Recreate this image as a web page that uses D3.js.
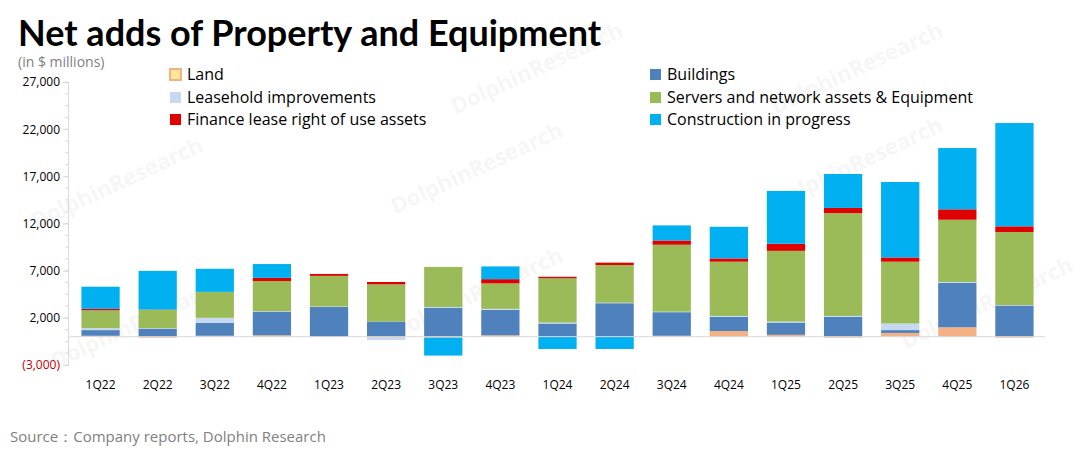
<!DOCTYPE html>
<html><head><meta charset="utf-8">
<script src="https://cdn.jsdelivr.net/npm/d3@7/dist/d3.min.js"></script>
<style>body{margin:0;background:#fff;font-family:"Open Sans","Noto Sans",sans-serif;}</style>
</head><body><svg id="c" width="1080" height="455"></svg>
<script>
// quarters and series values ($ millions)
var quarters = ["1Q22","2Q22","3Q22","4Q22","1Q23","2Q23","3Q23","4Q23","1Q24","2Q24","3Q24","4Q24","1Q25","2Q25","3Q25","4Q25","1Q26"];
var land      = [100,-100,100,150,0,-100,-100,150,0,0,100,600,200,-100,400,1000,-100];
var buildings = [600,850,1380,2500,3150,1600,3050,2700,1400,3550,2500,1500,1300,2100,300,4700,3300];
var leasehold = [200,50,520,50,50,-250,100,100,100,50,50,100,100,100,700,100,50];
var servers   = [1900,1950,2750,3200,3250,3950,4250,2700,4700,4000,7100,5750,7500,10900,6550,6600,7750];
var finance   = [150,30,0,340,200,250,0,450,150,250,450,350,750,550,450,1100,600];
var construction = [2350,4100,2450,1460,0,0,-1900,1350,-1300,-1300,1600,3350,5600,3600,8000,6500,10950];
var yTicks = [-3000,2000,7000,12000,17000,22000,27000];

var seriesNames = ["Land","Buildings","Leasehold improvements","Servers and network assets & Equipment","Finance lease right of use assets","Construction in progress"];
var seriesKeys = ["land","buildings","leasehold","servers","finance","construction"];
var colors = {land:"#F4B183",buildings:"#4F81BD",leasehold:"#C6D9F1",servers:"#9BBB59",finance:"#E00000",construction:"#00B0F0"};
var src = {land:land,buildings:buildings,leasehold:leasehold,servers:servers,finance:finance,construction:construction};

var rows = quarters.map(function(q, i) {
  var r = {q: q};
  seriesKeys.forEach(function(k) { r[k] = src[k][i]; });
  return r;
});

var svg = d3.select("#c");
var x = d3.scaleBand().domain(quarters).range([70, 1045]).paddingInner(0.33).paddingOuter(0.2);
var y = d3.scaleLinear().domain([-3000, 27000]).range([365, 82]);

// watermarks
var wm = [[120,190],[480,175],[860,170],[140,330],[480,300],[990,310],[540,75],[860,75]];
svg.selectAll(".wm").data(wm).enter().append("text")
  .attr("transform", function(d) { return "translate(" + d[0] + "," + d[1] + ") rotate(-25)"; })
  .attr("text-anchor", "middle").attr("font-size", 22).attr("font-weight", "bold")
  .attr("fill", "#000").attr("opacity", 0.03).text("DolphinResearch");

// title
svg.append("text").attr("x", 18).attr("y", 46).attr("font-size", 36).attr("font-weight", "bold")
  .attr("font-family", "Lato, 'Open Sans', sans-serif").attr("fill", "#000").text("Net adds of Property and Equipment");
svg.append("text").attr("x", 18).attr("y", 67).attr("font-size", 14).attr("fill", "#7f7f7f").text("(in $ millions)");

// stacked bars
var stack = d3.stack().keys(seriesKeys).offset(d3.stackOffsetDiverging);
var layers = stack(rows);
svg.append("g").selectAll("g").data(layers).enter().append("g")
  .attr("fill", function(d) { return colors[d.key]; })
  .selectAll("rect").data(function(d) { return d; }).enter().append("rect")
  .attr("x", function(d) { return x(d.data.q); })
  .attr("width", x.bandwidth())
  .attr("y", function(d) { return y(Math.max(d[0], d[1])); })
  .attr("height", function(d) { return Math.abs(y(d[0]) - y(d[1])); });

// zero line
svg.append("line").attr("x1", 68).attr("x2", 1045).attr("y1", y(0)).attr("y2", y(0))
  .attr("stroke", "#d9d9d9").attr("stroke-width", 1);

// y axis
var yAxis = d3.axisLeft(y).tickValues(yTicks).tickSize(5)
  .tickFormat(function(d) { return d < 0 ? "(" + d3.format(",")(-d) + ")" : d3.format(",")(d); });
var ga = svg.append("g").attr("transform", "translate(68,0)").call(yAxis);
ga.select(".domain").attr("stroke", "#d9d9d9");
ga.selectAll(".tick line").attr("stroke", "#d9d9d9");
ga.selectAll("text").attr("font-size", 12).attr("font-family", "'Open Sans', sans-serif")
  .attr("fill", function(d) { return d < 0 ? "#c00000" : "#000"; });
// minor ticks
svg.append("g").selectAll("line").data(d3.range(-3000, 27001, 1250)).enter().append("line")
  .attr("x1", 65).attr("x2", 68).attr("y1", function(d) { return y(d); }).attr("y2", function(d) { return y(d); })
  .attr("stroke", "#d9d9d9");

// x labels
svg.append("g").selectAll("text").data(quarters).enter().append("text")
  .attr("x", function(d) { return x(d) + x.bandwidth() / 2; }).attr("y", 389)
  .attr("text-anchor", "middle").attr("font-size", 12).attr("fill", "#000").text(function(d) { return d; });

// legend
var legPos = [[170,74],[650,74],[170,97],[650,97],[170,119],[650,119]];
var order = [0,1,2,3,4,5];
var lg = svg.append("g").selectAll("g").data(order).enter().append("g")
  .attr("transform", function(i) { return "translate(" + legPos[i][0] + "," + legPos[i][1] + ")"; });
lg.append("rect").attr("x", 0).attr("y", -5).attr("width", 11).attr("height", 11)
  .attr("fill", function(i) { return i === 0 ? "#FFE699" : colors[seriesKeys[i]]; })
  .attr("stroke", function(i) { return i === 0 ? "#F4B183" : "none"; }).attr("stroke-width", 2);
lg.append("text").attr("x", 17).attr("y", 6).attr("font-size", 16).attr("fill", "#000")
  .text(function(i) { return seriesNames[i]; });

// source
svg.append("text").attr("x", 10).attr("y", 442).attr("font-size", 15).attr("fill", "#7f7f7f")
  .text("Source：Company reports, Dolphin Research");
</script></body></html>
